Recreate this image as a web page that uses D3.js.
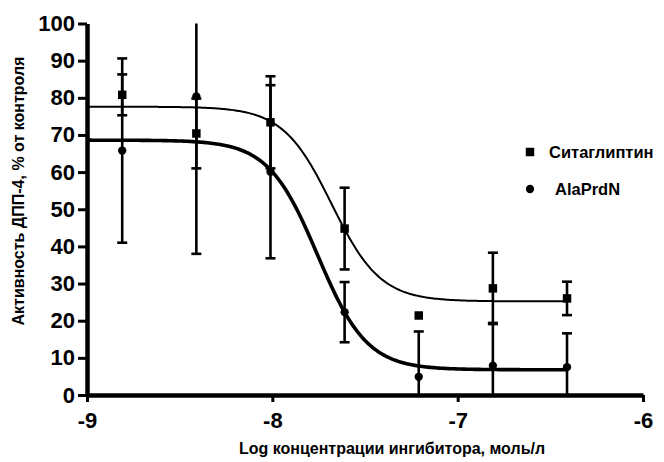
<!DOCTYPE html>
<html>
<head>
<meta charset="utf-8">
<script src="https://cdn.jsdelivr.net/npm/d3@7"></script>
<style>
  body { margin: 0; background: #fff; }
  text { font-family: "Liberation Sans", Arial, sans-serif; font-weight: bold; fill: #000; }
  .axis path, .axis line { stroke: #000; }
  .axis .domain { stroke-width: 4.5; }
  .axis .tick line { stroke-width: 3; }
</style>
</head>
<body>
<div id="chart"></div>
<script>
// Datos (log концентрации, средние и SD)
const logConc = [-8.81, -8.41, -8.01, -7.61, -7.21, -6.81, -6.41]
const sitaMean = [80.8, 70.4, 73.4, 44.8, 21.4, 28.7, 26.0]
const sitaSd = [5.5, 9.4, 12.4, 11.0, 0, 9.6, 4.5]
const alaMean = [65.8, 80.4, 60.1, 22.3, 4.9, 7.9, 7.5]
const alaSd = [24.8, 42.4, 23.3, 8.1, 12.2, 11.5, 9.1]

// parametros de la curva sigmoidea: [bottom, top, logEC50, hill]
const sitaFit = [25.2, 77.6, -7.68, 3.3]
const alaFit = [6.8, 68.6, -7.756, 3.26]

const seriesNames = ["Ситаглиптин", "AlaPrdN"]
const xTicks = [-9, -8, -7, -6]
const yTicks = [0, 10, 20, 30, 40, 50, 60, 70, 80, 90, 100]
const xTitle = "Log концентрации ингибитора, моль/л"
const yTitle = "Активность ДПП-4, % от контроля"

//Constantes
const width = 664
const height = 462
const margin = { top: 23.5, bottom: 67, left: 87, right: 21 }

const svg = d3.select("#chart")
    .append("svg")
    .attr("width", width)
    .attr("height", height)

const x = d3.scaleLinear().domain([-9, -6]).range([margin.left, width - margin.right])
const y = d3.scaleLinear().domain([0, 100]).range([height - margin.bottom, margin.top])

const sigmoid = p => v => p[0] + (p[1] - p[0]) / (1 + Math.pow(10, (v - p[2]) * p[3]))

const series = [
    { name: seriesNames[0], mean: sitaMean, sd: sitaSd, fit: sitaFit, curveWidth: 2, shape: "square" },
    { name: seriesNames[1], mean: alaMean, sd: alaSd, fit: alaFit, curveWidth: 3.6, shape: "circle" }
]

const plot = svg.append("g")

// curvas
series.forEach(s => {
    const f = sigmoid(s.fit)
    const xs = d3.range(-9, d3.max(logConc) + 0.0001, 0.01)
    plot.append("path")
        .datum(xs)
        .attr("fill", "none")
        .attr("stroke", "#000")
        .attr("stroke-width", s.curveWidth)
        .attr("d", d3.line().x(d => x(d)).y(d => y(f(d))))
})

// barras de error
const capW = 5
series.forEach(s => {
    const g = plot.append("g")
    logConc.forEach((lc, i) => {
        if (s.sd[i] <= 0) return
        const lo = s.mean[i] - s.sd[i]
        const hi = s.mean[i] + s.sd[i]
        const loC = Math.max(lo, 0)
        const hiC = Math.min(hi, 100)
        g.append("line")
            .attr("x1", x(lc)).attr("x2", x(lc))
            .attr("y1", y(loC)).attr("y2", y(hiC))
            .attr("stroke", "#000").attr("stroke-width", 2.6)
        if (lo >= 0) g.append("line")
            .attr("x1", x(lc) - capW).attr("x2", x(lc) + capW)
            .attr("y1", y(lo)).attr("y2", y(lo))
            .attr("stroke", "#000").attr("stroke-width", 2.6)
        if (hi <= 100) g.append("line")
            .attr("x1", x(lc) - capW).attr("x2", x(lc) + capW)
            .attr("y1", y(hi)).attr("y2", y(hi))
            .attr("stroke", "#000").attr("stroke-width", 2.6)
    })
})

// marcadores
const symSquare = d3.symbol().type(d3.symbolSquare).size(72)
const symCircle = d3.symbol().type(d3.symbolCircle).size(54)
series.forEach(s => {
    plot.selectAll(null)
        .data(logConc.map((lc, i) => [lc, s.mean[i]]))
        .enter()
        .append("path")
        .attr("transform", d => `translate(${x(d[0])},${y(d[1])})`)
        .attr("d", s.shape === "square" ? symSquare : symCircle)
        .attr("fill", "#000")
})

// ejes
const xAxis = d3.axisBottom(x).tickValues(xTicks).tickSize(7).tickSizeOuter(0)
    .tickPadding(10).tickFormat(d => String(d))
const yAxis = d3.axisLeft(y).tickValues(yTicks).tickSize(9).tickSizeOuter(0)
    .tickPadding(3).tickFormat(d => String(d))

svg.append("g")
    .attr("class", "axis")
    .attr("transform", `translate(0, ${y(0)})`)
    .call(xAxis)
    .call(g => g.selectAll("text").style("font-size", "22px").attr("fill", "#000"))

svg.append("g")
    .attr("class", "axis")
    .attr("transform", `translate(${x(-9)}, 0)`)
    .call(yAxis)
    .call(g => g.selectAll("text").style("font-size", "22px").attr("fill", "#000"))

// titulos
svg.append("text")
    .attr("x", 392)
    .attr("y", 454)
    .attr("text-anchor", "middle")
    .style("font-size", "16px")
    .text(xTitle)

svg.append("text")
    .attr("transform", "translate(24, 191) rotate(-90)")
    .attr("text-anchor", "middle")
    .style("font-size", "16px")
    .text(yTitle)

// leyenda
const leyenda = svg.append("g")
series.forEach((s, i) => {
    const ly = 152 + i * 37
    leyenda.append("path")
        .attr("transform", `translate(530, ${ly})`)
        .attr("d", s.shape === "square" ? symSquare : symCircle)
        .attr("fill", "#000")
    leyenda.append("text")
        .attr("x", i === 0 ? 549 : 555)
        .attr("y", ly)
        .attr("dy", "0.36em")
        .style("font-size", "16.5px")
        .text(s.name)
})
</script>
</body>
</html>
